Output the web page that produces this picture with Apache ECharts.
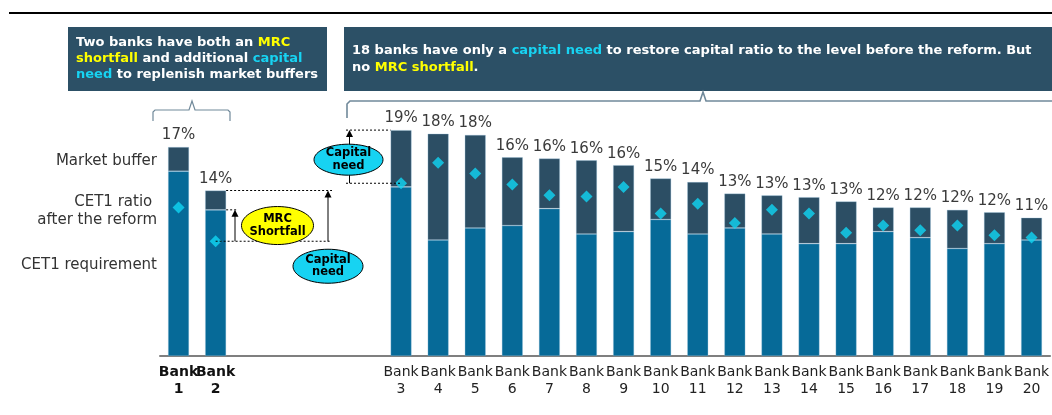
<!DOCTYPE html>
<html>
<head>
<meta charset="utf-8">
<script src="https://cdn.jsdelivr.net/npm/echarts@6/dist/echarts.min.js"></script>
<style>
  html, body { margin: 0; padding: 0; background: #ffffff; }
  #chart { width: 1052px; height: 415px; }
</style>
</head>
<body>
<div id="chart"></div>
<script>
// Categories: two banks with an MRC shortfall, a gap, then eighteen banks with a capital need only
const banks = ['Bank\n1', 'Bank\n2', '', '', '', '',
  'Bank\n3', 'Bank\n4', 'Bank\n5', 'Bank\n6', 'Bank\n7', 'Bank\n8', 'Bank\n9', 'Bank\n10',
  'Bank\n11', 'Bank\n12', 'Bank\n13', 'Bank\n14', 'Bank\n15', 'Bank\n16', 'Bank\n17',
  'Bank\n18', 'Bank\n19', 'Bank\n20'];

// CET1 requirement + market buffer (total height of each bar, %)
const totalRatio = [17.3, 13.7, null, null, null, null,
  18.7, 18.4, 18.3, 16.45, 16.35, 16.2, 15.8, 14.7,
  14.4, 13.45, 13.3, 13.15, 12.8, 12.3, 12.3,
  12.1, 11.9, 11.45];

// CET1 requirement (lower segment, %)
const cet1Requirement = [15.3, 12.1, null, null, null, null,
  14.0, 9.6, 10.6, 10.8, 12.2, 10.1, 10.3, 11.3,
  10.1, 10.6, 10.1, 9.3, 9.3, 10.3, 9.8,
  8.9, 9.3, 9.6];

// CET1 ratio after the reform (diamond markers, %)
const cet1AfterReform = [12.3, 9.5, null, null, null, null,
  14.3, 16.0, 15.1, 14.2, 13.3, 13.2, 14.0, 11.8,
  12.6, 11.0, 12.1, 11.8, 10.2, 10.8, 10.4,
  10.8, 10.0, 9.8];

const marketBuffer = totalRatio.map((t, i) =>
  t == null ? '-' : +(t - cet1Requirement[i]).toFixed(2));

const FONT = 'DejaVu Sans';
const C_REQ = '#066A98';
const C_BUF = '#2C4E64';
const C_DIA = '#10D6F4';
const C_BOX = '#2C5066';
const C_YEL = '#FFFF00';
const C_CYAN = '#17D3F2';
const C_BRACE = '#70899A';

const chart = echarts.init(document.getElementById('chart'), null, { renderer: 'canvas' });

chart.setOption({
  animation: false,
  backgroundColor: '#ffffff',
  grid: { left: 160, top: 54, width: 896, height: 302, containLabel: false },
  xAxis: {
    type: 'category',
    data: banks,
    axisLine: { lineStyle: { color: '#7f7f7f', width: 2 } },
    axisTick: { show: false },
    axisLabel: {
      interval: 0,
      hideOverlap: false,
      margin: 8,
      formatter: (v, i) => (i < 2 ? '{b|' + v.replace('\n', '}\n{b|') + '}' : '{n|' + v.replace('\n', '}\n{n|') + '}'),
      rich: {
        b: { fontFamily: FONT, fontSize: 14, fontWeight: 'bold', color: '#111', lineHeight: 17 },
        n: { fontFamily: FONT, fontSize: 14, color: '#222', lineHeight: 17 }
      }
    }
  },
  yAxis: { type: 'value', min: 0, max: 25, show: false, splitLine: { show: false } },
  series: [
    {
      name: 'CET1 requirement',
      type: 'bar',
      stack: 'ratio',
      barWidth: 21,
      data: cet1Requirement.map(v => (v == null ? '-' : v)),
      itemStyle: { color: C_REQ, borderColor: 'rgba(150,195,220,0.55)', borderWidth: 0.6 }
    },
    {
      name: 'Market buffer',
      type: 'bar',
      stack: 'ratio',
      barWidth: 21,
      data: marketBuffer,
      itemStyle: { color: C_BUF, borderColor: 'rgba(150,195,220,0.55)', borderWidth: 0.6 },
      label: {
        show: true,
        position: 'top',
        distance: 4,
        fontFamily: FONT,
        fontSize: 15,
        color: '#3a3a3a',
        formatter: p => Math.round(totalRatio[p.dataIndex]) + '%'
      }
    },
    {
      name: 'CET1 ratio after the reform',
      type: 'scatter',
      symbol: 'diamond',
      symbolSize: [12, 12],
      z: 5,
      data: cet1AfterReform.map(v => (v == null ? '-' : v)),
      itemStyle: { color: C_DIA }
    }
  ]
});

// Annotation layer: boxes, braces, side labels, and callouts tied to the data
const px = (i, v) => chart.convertToPixel({ gridIndex: 0 }, [i, v]);
const HALF = 10.5;

function dashed(x1, y1, x2, y2) {
  return { type: 'line', z: 100, shape: { x1, y1, x2, y2 },
    style: { stroke: '#000', lineWidth: 1, lineDash: [2, 2] } };
}
function arrowUp(x, yFrom, yTo) {
  return [
    { type: 'line', z: 100, shape: { x1: x, y1: yFrom, x2: x, y2: yTo + 6 },
      style: { stroke: '#000', lineWidth: 1 } },
    { type: 'polygon', z: 100, shape: { points: [[x, yTo], [x - 3.5, yTo + 7], [x + 3.5, yTo + 7]] },
      style: { fill: '#000' } }
  ];
}
function bubble(cx, cy, rx, ry, fill, text) {
  return [
    { type: 'ellipse', z: 101, shape: { cx, cy, rx, ry },
      style: { fill, stroke: '#000', lineWidth: 1 } },
    { type: 'text', z: 102, x: cx, y: cy,
      style: { text, fontFamily: FONT, fontWeight: 'bold', fontSize: 11.5, lineHeight: 12.5,
        fill: '#000', align: 'center', verticalAlign: 'middle' } }
  ];
}

const g = [];

// top rule
g.push({ type: 'rect', z: 100, shape: { x: 9, y: 12, width: 1043, height: 2 }, style: { fill: '#000' } });

// heading boxes
const boxRich = (lh) => ({
  w: { fill: '#ffffff', fontFamily: FONT, fontWeight: 'bold', fontSize: 13, lineHeight: lh },
  y: { fill: C_YEL, fontFamily: FONT, fontWeight: 'bold', fontSize: 13, lineHeight: lh },
  c: { fill: C_CYAN, fontFamily: FONT, fontWeight: 'bold', fontSize: 13, lineHeight: lh }
});

g.push({ type: 'rect', z: 100, shape: { x: 68, y: 27, width: 259, height: 64 }, style: { fill: C_BOX } });
g.push({ type: 'text', z: 101, x: 76, y: 59,
  style: {
    text: '{w|Two banks have both an }{y|MRC}\n{y|shortfall}{w| and additional }{c|capital}\n{c|need}{w| to replenish market buffers}',
    verticalAlign: 'middle', align: 'left',
    rich: boxRich(16)
  } });

g.push({ type: 'rect', z: 100, shape: { x: 344, y: 27, width: 720, height: 64 }, style: { fill: C_BOX } });
g.push({ type: 'text', z: 101, x: 352, y: 59,
  style: {
    text: '{w|18 banks have only a }{c|capital need}{w| to restore capital ratio to the level before the reform. But}\n{w|no }{y|MRC shortfall}{w|.}',
    verticalAlign: 'middle', align: 'left',
    rich: boxRich(17)
  } });

// braces under the boxes
g.push({ type: 'polyline', z: 100,
  shape: { points: [[153, 121], [153, 112], [155, 110], [189, 110], [192, 101], [195, 110], [228, 110], [230, 112], [230, 121]] },
  style: { stroke: C_BRACE, lineWidth: 1.2, fill: null } });
g.push({ type: 'polyline', z: 100,
  shape: { points: [[347, 118], [347, 104], [350, 101], [700, 101], [703, 92], [706, 101], [1060, 101]] },
  style: { stroke: C_BRACE, lineWidth: 1.6, fill: null } });

// side labels for the bar parts
const side = (y, t) => ({ type: 'text', z: 100, x: 157, y,
  style: { text: t, fontFamily: FONT, fontSize: 15, fill: '#333', align: 'right', verticalAlign: 'middle' } });
g.push(side(161, 'Market buffer'));
g.push(side(202, 'CET1 ratio '));
g.push(side(220, 'after the reform'));
g.push(side(265, 'CET1 requirement'));

// Bank 2: MRC shortfall and capital need
{
  const [xc, yTop] = px(1, totalRatio[1]);
  const ySplit = px(1, cet1Requirement[1])[1];
  const yDia = px(1, cet1AfterReform[1])[1];
  const xr = xc + HALF;
  g.push(dashed(xr, yTop, 332, yTop));
  g.push(dashed(xr, ySplit, 238, ySplit));
  g.push(dashed(xc, yDia, 330, yDia));
  g.push(...arrowUp(235, yDia, ySplit));
  g.push(...arrowUp(328, yDia, yTop));
  g.push(...bubble(277.5, (ySplit + yDia) / 2, 36, 19, C_YEL, 'MRC\nShortfall'));
  g.push(...bubble(328, yDia + 25, 35, 17, C_CYAN, 'Capital\nneed'));
}

// Bank 3: capital need only
{
  const [xc, yTop] = px(6, totalRatio[6]);
  const yDia = px(6, cet1AfterReform[6])[1];
  const xl = xc - HALF;
  g.push(dashed(346, yTop, xl, yTop));
  g.push(dashed(346, yDia, xc, yDia));
  g.push(...arrowUp(349.5, yDia, yTop));
  g.push(...bubble(348.5, (yTop + yDia) / 2 + 3, 34.5, 15.5, C_CYAN, 'Capital\nneed'));
}

chart.setOption({ graphic: g });
</script>
</body>
</html>
